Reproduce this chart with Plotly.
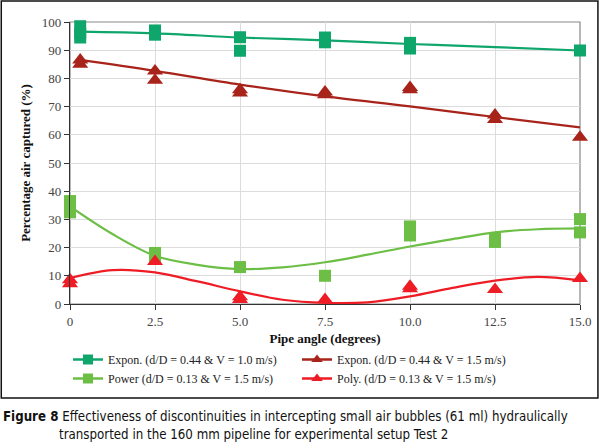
import plotly.graph_objects as go

# ---- data ----
angle_ticks = [0, 2.5, 5.0, 7.5, 10.0, 12.5, 15.0]
tick_text = ["0", "2.5", "5.0", "7.5", "10.0", "12.5", "15.0"]

# Expon. (d/D = 0.44 & V = 1.0 m/s)
dg_x = [0.3, 0.3, 0.3, 2.5, 2.5, 5.0, 5.0, 7.5, 7.5, 10.0, 10.0, 15.0]
dg_y = [98.5, 96.0, 94.5, 97.0, 95.5, 94.6, 89.8, 94.5, 92.8, 92.6, 90.6, 89.9]
dg_trend_x = [0.3, 2.5, 5.0, 7.5, 10.0, 12.5, 15.0]
dg_trend_y = [96.6, 96.0, 94.5, 93.5, 92.2, 91.1, 89.9]

# Expon. (d/D = 0.44 & V = 1.5 m/s)
dr_x = [0.3, 0.3, 2.5, 2.5, 5.0, 5.0, 7.5, 7.5, 10.0, 10.0, 12.5, 12.5, 15.0]
dr_y = [86.5, 85.0, 82.6, 79.3, 76.0, 74.8, 75.2, 74.2, 76.8, 76.0, 67.0, 65.4, 59.1]
dr_trend_x = [0.3, 2.5, 5.0, 7.5, 10.0, 12.5, 15.0]
dr_trend_y = [86.6, 82.7, 77.8, 73.6, 70.1, 66.3, 62.6]

# Power (d/D = 0.13 & V = 1.5 m/s)
lg_x = [0, 0, 0, 2.5, 2.5, 5.0, 7.5, 10.0, 10.0, 12.5, 12.5, 15.0, 15.0]
lg_y = [36.5, 34.5, 32.5, 18.1, 17.0, 13.1, 10.0, 27.5, 24.3, 23.2, 22.0, 30.1, 25.4]
lg_trend_x = [0, 1.25, 2.5, 3.75, 5.0, 6.25, 7.5, 8.75, 10.0, 11.25, 12.5, 13.75, 15.0]
lg_trend_y = [34.6, 24.8, 17.1, 13.9, 12.4, 13.0, 14.8, 17.5, 20.4, 23.0, 25.4, 26.5, 26.8]

# Poly. (d/D = 0.13 & V = 1.5 m/s)
rd_x = [0, 0, 2.5, 5.0, 5.0, 7.5, 10.0, 10.0, 12.5, 15.0]
rd_y = [8.6, 7.2, 15.1, 2.6, 1.6, 1.6, 6.3, 5.4, 5.1, 9.0]
rd_trend_x = [0, 1.25, 2.5, 3.75, 5.0, 6.25, 7.5, 8.75, 10.0, 11.25, 12.5, 13.75, 15.0]
rd_trend_y = [9.2, 12.0, 11.2, 8.0, 4.5, 1.5, 0.4, 0.6, 2.7, 5.7, 8.3, 9.6, 8.4]

names = [
    "Expon. (d/D = 0.44 & V = 1.0 m/s)",
    "Expon. (d/D = 0.44 & V = 1.5 m/s)",
    "Power (d/D = 0.13 & V = 1.5 m/s)",
    "Poly. (d/D = 0.13 & V = 1.5 m/s)",
]
colors = ["#0FA66C", "#A8231A", "#6CBE45", "#EE1C25"]
symbols = ["square", "triangle-up", "square", "triangle-up"]
msizes = [12, 14, 12, 14]

series = [
    (dg_x, dg_y, dg_trend_x, dg_trend_y),
    (dr_x, dr_y, dr_trend_x, dr_trend_y),
    (lg_x, lg_y, lg_trend_x, lg_trend_y),
    (rd_x, rd_y, rd_trend_x, rd_trend_y),
]

fig = go.Figure()
for i, (px, py, tx, ty) in enumerate(series):
    fig.add_trace(go.Scatter(x=tx, y=ty, mode="lines", line=dict(color=colors[i], width=2.2, shape="spline", smoothing=1.0),
                             showlegend=False, hoverinfo="skip"))
    fig.add_trace(go.Scatter(x=px, y=py, mode="markers", cliponaxis=False,
                             marker=dict(symbol=symbols[i], size=msizes[i], color=colors[i], line=dict(width=0)),
                             showlegend=False))

# legend entries (line + marker), row order: dark green, dark red / light green, red
for i in range(4):
    fig.add_trace(go.Scatter(x=[None], y=[None], mode="lines+markers", name=names[i],
                             line=dict(color=colors[i], width=2.5),
                             marker=dict(symbol=symbols[i], size=10, color=colors[i])))

serif = "Liberation Serif, DejaVu Serif, serif"
cap_font = "DejaVu Sans Condensed, Liberation Sans Narrow, Roboto, sans-serif"
W, H = 603, 448
L, R, T, B = 70, 21, 22, 144
pw, ph = W - L - R, H - T - B

def px2x(p):
    return (p - L) / pw

def py2y(p):
    return (H - B - p) / ph

fig.update_layout(
    width=W, height=H,
    margin=dict(l=L, r=R, t=T, b=B),
    paper_bgcolor="white", plot_bgcolor="white",
    font=dict(family=serif, size=13, color="#333"),
    xaxis=dict(range=[0, 15], tickvals=angle_ticks, ticktext=tick_text,
               showgrid=True, gridcolor="#dcdcdc", gridwidth=1,
               showline=True, linecolor="#333", linewidth=1.2,
               ticks="outside", ticklen=5, tickcolor="#333",
               zeroline=False, tickfont=dict(family=serif, size=13, color="#444"),
               title=dict(text="<b>Pipe angle (degrees)</b>", font=dict(family=serif, size=13, color="#111"), standoff=6)),
    yaxis=dict(range=[0, 100], dtick=10,
               showgrid=True, gridcolor="#dcdcdc", gridwidth=1,
               showline=True, linecolor="#333", linewidth=1.2,
               ticks="outside", ticklen=5, tickcolor="#333",
               zeroline=False, tickfont=dict(family=serif, size=13, color="#444"),
               title=dict(text="<b>Percentage air captured (%)</b>", font=dict(family=serif, size=13, color="#111"), standoff=8)),
    legend=dict(orientation="h", x=px2x(68), y=py2y(345), xanchor="left", yanchor="top",
                entrywidth=184, entrywidthmode="pixels", tracegroupgap=0,
                font=dict(family=serif, size=12, color="#222"), bgcolor="rgba(0,0,0,0)",
                itemwidth=30),
    shapes=[
        dict(type="rect", xref="paper", yref="paper", x0=0, x1=1, y0=0, y1=1,
             line=dict(color="#888", width=1.2), layer="below"),
        dict(type="rect", xref="paper", yref="paper", x0=px2x(1), x1=px2x(600), y0=py2y(398), y1=py2y(1),
             line=dict(color="#111", width=1.5)),
    ],
    annotations=[
        dict(xref="paper", yref="paper", x=px2x(1), y=py2y(416), xanchor="left", yanchor="middle",
             showarrow=False, align="left",
             text="<b>Figure 8</b> Effectiveness of discontinuities in intercepting small air bubbles (61 ml) hydraulically",
             font=dict(family=cap_font, size=13.2, color="#111")),
        dict(xref="paper", yref="paper", x=px2x(57), y=py2y(434), xanchor="left", yanchor="middle",
             showarrow=False, align="left",
             text="transported in the 160 mm pipeline for experimental setup Test 2",
             font=dict(family=cap_font, size=13.2, color="#111")),
    ],
)

fig.write_html("out.html", config={"displayModeBar": False},
               post_script="document.body.style.margin='0px';document.body.style.padding='0px';")
